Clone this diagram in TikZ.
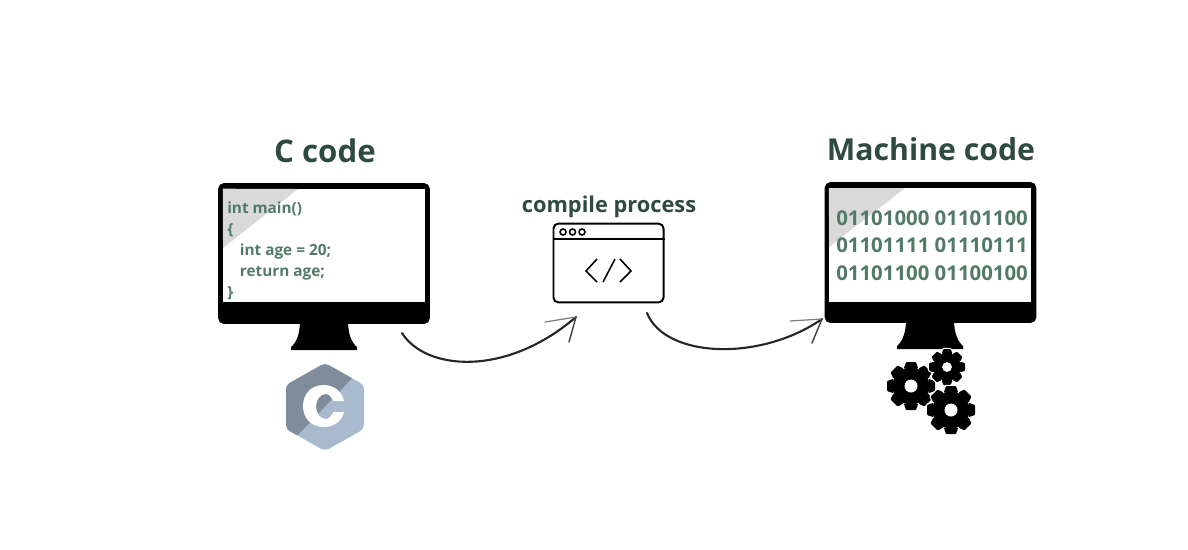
\documentclass[tikz,border=0pt]{standalone}
\usepackage{fontspec}
\setmainfont{Open Sans}
\usetikzlibrary{positioning}
\definecolor{headGreen}{HTML}{2F4A40}
\definecolor{codeGreen}{HTML}{527A68}
\definecolor{sheenGray}{HTML}{D9D9D9}
\definecolor{logoDark}{HTML}{7F8C9B}
\definecolor{logoLight}{HTML}{A9B9CE}
\tikzset{
    cogHalo/.style={draw=white,line width=1.6pt},
    cogFill/.style={fill=black}
}
\newcommand{\cogwheel}[4]{% name, x, y, radius
    \begin{scope}[shift={(#2,#3)},scale=#4/24]
        \foreach \opts in {cogHalo,cogFill} {
            \path[\opts] (0,0) circle (18.5);
            \foreach \ang in {0,45,...,315} {
                \path[\opts,rotate=\ang,rounded corners=0.6pt] (-7.2,-17.5) -- (-5,-24) -- (5,-24) -- (7.2,-17.5) -- cycle;
            }
        }
        \fill[white] (0,0) circle (6.5);
    \end{scope}
    \coordinate (#1) at (#2,#3);
}
\begin{document}
\begin{tikzpicture}
        [x=0.025cm,y=-0.025cm,
        frame/.style={fill=black,rounded corners=4pt,minimum width=5.29cm,minimum height=3.52cm,inner sep=0pt,outer sep=0pt},
        screen/.style={fill=white,minimum width=5.05cm,minimum height=2.84cm,inner sep=0pt,outer sep=0pt},
        heading/.style={font=\fontsize{22.2}{27}\selectfont\bfseries,text=headGreen},
        headingWide/.style={font=\fontsize{21.5}{27}\selectfont\bfseries,text=headGreen},
        codeText/.style={font=\fontsize{10.9}{14.9}\selectfont\bfseries,text=codeGreen,align=left,anchor=north west,inner sep=0pt},
        binText/.style={font=\fontsize{14.5}{19.6}\selectfont\bfseries,text=codeGreen,align=left,anchor=north west,inner sep=0pt},
        window/.style={draw=black,line width=1.4pt,rounded corners=3.5pt,minimum width=2.75cm,minimum height=1.97cm,inner sep=0pt},
        sketch/.style={draw=black!85,line width=1.5pt,line cap=round},
        barb/.style={draw=black!75,line width=1pt,line cap=round},
        barbFaint/.style={draw=black!50,line width=0.9pt,line cap=round}]
        \useasboundingbox (0,0) rectangle (1188,549);

        % left monitor
        \node[frame] (frameC) at (324,253.5) {};
        \node[screen] (screenC) at (324,245.5) {};
        \fill[sheenGray] (screenC.north west) -- (298,189) -- (223,248) -- cycle;
        \fill[black] (300,320) -- (348,320) .. controls (348,335) and (352,343) .. (357,347) -- (357,350) -- (291,350) -- (291,347) .. controls (296,343) and (300,335) .. (300,320) -- cycle;
        \node[heading] (titleC) at (325,151) {C code};
        \node[codeText] (codeC) at (227,201.5) {int main()\\\{\\\hspace{9pt}int age = 20;\\\hspace{9pt}return age;\\\}};

        % right monitor
        \node[frame] (frameM) at (930.5,252.5) {};
        \node[screen] (screenM) at (930,245) {};
        \fill[sheenGray] (screenM.north west) -- (905,188) -- (829,247) -- cycle;
        \fill[black] (906,320) -- (954,320) .. controls (954,333) and (958,342) .. (963,346) -- (963,349) -- (897,349) -- (897,346) .. controls (902,342) and (906,333) .. (906,320) -- cycle;
        \node[headingWide] (titleM) at (931,149) {Machine code};
        \node[binText] (binM) at (836,210) {01101000 01101100\\01101111 01110111\\01101100 01100100};

        % compile window
        \node[font=\fontsize{15.5}{19}\selectfont\bfseries,text=headGreen] (titleW) at (609,207) {compile process};
        \node[window] (win) at (608.5,263) {};
        \draw[line width=1.2pt] (win.west |- 0,239) -- (win.east |- 0,239);
        \foreach \cx in {563,572.5,582} {
            \draw[line width=1.1pt] (\cx,232) circle (3);
        }
        \draw[line width=1.1pt] (597,259) -- (586,271) -- (597,282);
        \draw[line width=1.1pt] (615,259) -- (603,282);
        \draw[line width=1.1pt] (620,259) -- (631,271) -- (620,282);

        % c logo
        \begin{scope}
            \clip[rounded corners=3pt] (325,363) -- (364,385) -- (364,429) -- (325,451) -- (286,429) -- (286,385) -- cycle;
            \fill[logoLight] (280,360) rectangle (370,455);
            \fill[logoDark] (358,372) -- (325,355) -- (280,380) -- (280,432) -- (293,440) -- cycle;
        \end{scope}
        \fill[white] (344,401) -- (333.5,401) .. controls (331,396.5) and (329,394) .. (326,394) .. controls (320,394) and (316,400) .. (316,406.5) .. controls (316,413) and (320,419) .. (326,419) .. controls (329,419) and (331,416) .. (333.5,412) -- (344,412) .. controls (342,422) and (333,427) .. (324,427) .. controls (311,427) and (303,418) .. (303,406) .. controls (303,394) and (311,385) .. (324,385) .. controls (333,385) and (342,391) .. (344,401) -- cycle;

        % gears
        \cogwheel{gearA}{911}{386}{24}
        \cogwheel{gearB}{947}{367}{18}
        \cogwheel{gearC}{951}{410}{24}

        % arrows
        \coordinate (startC) at (402,333);
        \coordinate (tipC) at (576,317);
        \coordinate (barbCa) at (545,322);
        \coordinate (barbCb) at (569,342);
        \coordinate (startW) at (647,313);
        \coordinate (tipW) at (822,319);
        \coordinate (barbWa) at (790,321);
        \coordinate (barbWb) at (812,343);
        \draw[sketch] (startC) .. controls (425,370) and (505,378) .. (tipC);
        \draw[barbFaint] (tipC) -- (barbCa);
        \draw[barb] (tipC) -- (barbCb);
        \draw[sketch] (startW) .. controls (665,358) and (760,362) .. (tipW);
        \draw[barbFaint] (tipW) -- (barbWa);
        \draw[barb] (tipW) -- (barbWb);
    \end{tikzpicture}
\end{document}
